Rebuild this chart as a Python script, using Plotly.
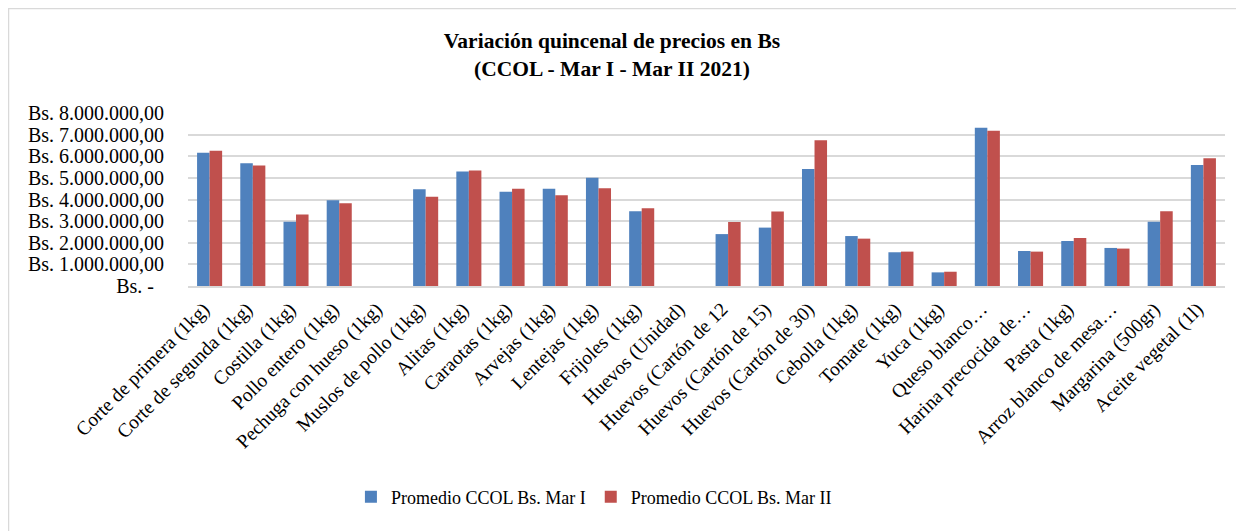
import plotly.graph_objects as go

# Data
categories = [
    "Corte de primera (1kg)", "Corte de segunda (1kg)", "Costilla (1kg)",
    "Pollo entero (1kg)", "Pechuga con hueso (1kg)", "Muslos de pollo (1kg)",
    "Alitas (1kg)", "Caraotas (1kg)", "Arvejas (1kg)", "Lentejas (1kg)",
    "Frijoles (1kg)", "Huevos (Unidad)", "Huevos (Cartón de 12",
    "Huevos (Cartón de 15)", "Huevos (Cartón de 30)", "Cebolla (1kg)",
    "Tomate (1kg)", "Yuca (1kg)", "Queso blanco…", "Harina precocida de…",
    "Pasta (1kg)", "Arroz blanco de mesa…", "Margarina (500gr)", "Aceite vegetal (1l)",
]
mar_i = [
    6160000, 5680000, 2970000, 3970000, 0, 4470000,
    5300000, 4360000, 4500000, 5010000, 3460000, 0,
    2400000, 2700000, 5410000, 2310000, 1560000, 630000,
    7320000, 1620000, 2080000, 1760000, 2970000, 5590000,
]
mar_ii = [
    6260000, 5570000, 3310000, 3830000, 0, 4130000,
    5340000, 4500000, 4200000, 4520000, 3600000, 0,
    2960000, 3450000, 6740000, 2190000, 1590000, 660000,
    7180000, 1590000, 2220000, 1730000, 3460000, 5910000,
]
series_names = ["Promedio CCOL Bs. Mar I", "Promedio CCOL Bs. Mar II"]
tick_vals = [0, 1000000, 2000000, 3000000, 4000000, 5000000, 6000000, 7000000, 8000000]
tick_text = ["Bs. -\u00a0\u00a0", "Bs. 1.000.000,00", "Bs. 2.000.000,00", "Bs. 3.000.000,00",
             "Bs. 4.000.000,00", "Bs. 5.000.000,00", "Bs. 6.000.000,00",
             "Bs. 7.000.000,00", "Bs. 8.000.000,00"]

font_family = "Liberation Serif, Times New Roman, serif"

# page body has an 8px margin, so the figure is laid out 8px up/left of the reference
L, R, T, B = 180, 27, 105, 253
W, H = 1244, 531
pw, ph = W - L - R, H - T - B

fig = go.Figure()
fig.add_trace(go.Bar(x=categories, y=mar_i, name=series_names[0],
                     marker=dict(color="#4F81BD", line=dict(width=0))))
fig.add_trace(go.Bar(x=categories, y=mar_ii, name=series_names[1],
                     marker=dict(color="#C0504D", line=dict(width=0))))

fig.update_layout(
    width=W, height=H,
    margin=dict(l=L, r=R, t=T, b=B),
    paper_bgcolor="white", plot_bgcolor="white",
    font=dict(family=font_family, size=17, color="#000000"),
    barmode="group", bargap=0.42, bargroupgap=0,
    title=dict(text="<b>Variación quincenal de precios en Bs<br>(CCOL - Mar I - Mar II 2021)</b>",
               x=0.4855, xref="container", y=0.9247, yref="container",
               xanchor="center", yanchor="middle",
               font=dict(size=21.5, family=font_family)),
    legend=dict(orientation="h", x=0.471, xanchor="center", xref="container",
                y=0.079, yanchor="middle", yref="container",
                font=dict(size=18), traceorder="normal", itemwidth=30),
    showlegend=True,
)

fig.update_xaxes(tickangle=-45, showline=True, linecolor="#D9D9D9", linewidth=2,
                 ticks="", tickfont=dict(size=19.5), ticklabelshift=-6,
                 ticklabelstandoff=2, automargin=False)
fig.update_yaxes(range=[0, 8000000], tickvals=tick_vals, ticktext=tick_text,
                 showgrid=True, gridcolor="#D9D9D9", gridwidth=2,
                 zeroline=False, showline=False, ticks="", tickfont=dict(size=20),
                 ticklabelstandoff=23, automargin=False)

# light chart border (left and top edges visible)
fig.add_shape(type="rect", xref="paper", yref="paper",
              x0=(0 - L) / pw, x1=(W + 40 - L) / pw,
              y0=(H - B - (H + 40)) / ph, y1=(H - B - 0) / ph,
              line=dict(color="#D9D9D9", width=2.5), layer="below")

fig.write_html("out.html")
